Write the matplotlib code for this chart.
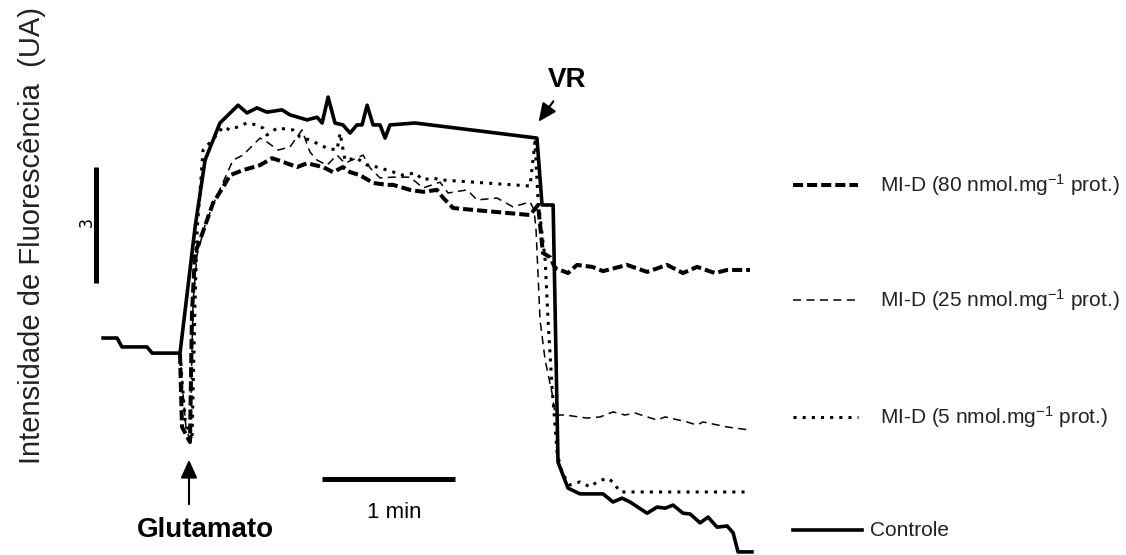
import matplotlib.pyplot as plt
from matplotlib.lines import Line2D

plt.rcParams['font.family'] = ['Liberation Sans', 'DejaVu Sans']
plt.rcParams['mathtext.fontset'] = 'custom'
plt.rcParams['mathtext.rm'] = 'Liberation Sans'
plt.rcParams['mathtext.it'] = 'Liberation Sans:italic'

# tempo em s (0 = adicao de glutamato), fluorescencia em UA
t_ctrl = [-34.7, -28.4, -26.2, -14.9, -12.6, 0.0, 6.8, 11.3, 18.0, 26.2, 30.2, 34.7,
          39.2, 46.0, 49.6, 57.3, 61.8, 64.1, 66.8, 69.9, 73.5, 76.7, 79.8, 82.1,
          84.4, 87.1, 90.2, 92.5, 94.7, 106.0, 161.0, 163.3, 168.3, 170.5, 175.0,
          180.4, 190.8, 195.3, 199.4, 203.0, 210.7, 215.2, 218.8, 222.4, 226.9,
          230.1, 234.6, 238.2, 242.2, 246.8, 249.5, 251.7, 258.0]
f_ctrl = [2.69, 2.69, 2.46, 2.46, 2.30, 2.30, 5.56, 7.29, 8.25, 8.71, 8.51, 8.64,
          8.53, 8.59, 8.46, 8.33, 8.40, 8.25, 8.92, 8.25, 8.20, 7.99, 8.20, 8.20,
          8.71, 8.20, 8.20, 7.86, 8.20, 8.25, 7.86, 6.13, 6.13, -0.52, -1.19,
          -1.34, -1.34, -1.55, -1.45, -1.55, -1.84, -1.68, -1.71, -1.63, -1.84,
          -1.86, -2.09, -1.94, -2.20, -2.17, -2.35, -2.84, -2.84]

t_80 = [0.0, 0.9, 4.5, 5.4, 6.8, 9.0, 12.2, 14.9, 19.4, 22.6, 28.4, 36.1, 41.5,
        44.2, 52.8, 57.3, 64.5, 69.0, 73.5, 76.7, 81.2, 87.1, 93.4, 96.1, 103.8,
        109.6, 115.9, 118.6, 123.2, 157.9, 161.5, 163.7, 166.9, 169.2, 175.0,
        179.1, 185.9, 190.8, 201.6, 210.7, 219.7, 226.9, 233.2, 241.3, 246.8, 257.1]
f_80 = [2.28, 0.39, 0.0, 3.34, 4.89, 5.22, 5.74, 6.18, 6.59, 6.90, 7.03, 7.16, 7.34,
        7.29, 7.11, 7.21, 7.11, 6.98, 7.11, 6.98, 6.90, 6.70, 6.65, 6.65, 6.52,
        6.47, 6.52, 6.32, 6.05, 5.87, 6.13, 4.89, 4.78, 4.50, 4.37,
        4.58, 4.53, 4.42, 4.58, 4.40, 4.58, 4.37, 4.53, 4.37, 4.45, 4.45]

t_25 = [0.0, 1.4, 2.7, 4.5, 5.9, 7.7, 11.3, 15.8, 20.3, 23.9, 28.4, 36.1, 39.2,
        44.2, 49.6, 55.0, 58.6, 61.8, 66.3, 70.8, 74.4, 82.6, 85.7, 90.2, 96.1,
        103.8, 109.6, 117.3, 120.9, 129.5, 134.0, 143.0, 150.2, 157.9, 159.7,
        160.6, 162.4, 164.7, 167.8, 169.2, 173.7, 183.6, 189.5, 195.3, 200.7,
        205.3, 215.2, 218.8, 228.7, 233.2, 235.9, 246.8, 257.1]
f_25 = [2.28, 1.22, 0.36, 0.05, 3.67, 4.84, 5.61, 6.26, 6.83, 7.29, 7.42, 7.86, 7.76,
        7.55, 7.63, 8.07, 7.50, 7.29, 7.16, 7.42, 7.21, 7.42, 7.09, 6.83, 6.85,
        6.85, 6.57, 6.72, 6.44, 6.52, 6.26, 6.31, 6.08, 6.21, 6.00,
        5.48, 3.15, 2.12, 1.27, 0.70, 0.70, 0.62, 0.65, 0.78, 0.70,
        0.75, 0.57, 0.65, 0.52, 0.44, 0.52, 0.39, 0.31]

t_5 = [0.0, 2.3, 5.4, 6.8, 7.7, 10.4, 15.8, 19.4, 22.6, 30.2, 34.7, 37.4, 39.2,
       43.8, 51.0, 54.1, 58.6, 66.3, 70.8, 72.2, 74.4, 79.8, 84.4, 88.9, 94.7,
       100.6, 106.0, 109.6, 114.1, 117.3, 157.9, 160.1, 161.5, 164.7, 166.0,
       167.8, 170.1, 172.3, 175.9, 180.4, 185.0, 188.1, 192.6, 195.3, 198.5, 257.1]
f_5 = [2.28, 0.57, 0.05, 3.67, 5.48, 7.55, 7.89, 8.15, 8.07, 8.25, 8.20, 8.12, 7.94,
       8.12, 8.07, 7.89, 7.81, 7.60, 7.55, 7.99, 7.29, 7.34, 7.16, 7.11, 7.01,
       6.90, 6.96, 6.78, 6.83, 6.78, 6.62, 7.76, 6.26, 4.71, 3.15,
       1.42, -0.28, -0.80, -1.11, -1.03, -1.16, -1.03, -0.93, -1.03, -1.29, -1.29]

labels = ['MI-D (80 nmol.mg$^{-1}$ prot.)', 'MI-D (25 nmol.mg$^{-1}$ prot.)',
          'MI-D (5 nmol.mg$^{-1}$ prot.)', 'Controle']

W, H = 1126, 555
fig = plt.figure(figsize=(W / 100, H / 100), dpi=100)
ax = fig.add_axes([0, 0, 1, 1])
# 1 min = 133 px, 3 UA = 116 px
ax.set_xlim(-81.2, 426.7)
ax.set_ylim(-2.92, 11.43)
ax.axis('off')

def fp(x, y):
    return x / W, 1 - y / H

styles = [dict(lw=2.9, dashes=(2.5, 1.0)),
          dict(lw=1.1, dashes=(5.3, 3.5)),
          dict(lw=2.2, dashes=(1.0, 2.0)),
          dict(lw=2.6)]

ax.plot(t_80, f_80, color='k', **styles[0])
ax.plot(t_25, f_25, color='k', **styles[1])
ax.plot(t_5, f_5, color='k', **styles[2])
ax.plot(t_ctrl, f_ctrl, color='k', **styles[3])

# scale bars
ax.plot([64.0, 64.0 + 60], [-0.96, -0.96], color='k', lw=3.6, solid_capstyle='butt')
ax.plot([-38.1, -38.1], [4.11, 4.11 + 3], color='k', lw=3.6, solid_capstyle='butt')
fig.text(*fp(394, 512), '1 min', fontsize=16, ha='center', va='center')
fig.text(*fp(87, 222), '3', fontsize=12, ha='center', va='center', rotation=90,
         family='DejaVu Sans Mono')

fig.text(*fp(32, 236), 'Intensidade de Fluorescência  (UA)', fontsize=21,
         ha='center', va='center', rotation=90, color='#222222')

# arrows
arrow = dict(arrowstyle='-|>,head_length=1.1,head_width=0.5', color='k', lw=1.5)
ax.annotate('', xy=fp(537, 124), xytext=fp(555, 99), xycoords='figure fraction',
            arrowprops=arrow)
ax.annotate('', xy=fp(189, 457), xytext=fp(189, 507), xycoords='figure fraction',
            arrowprops=arrow)
fig.text(*fp(567, 80), 'VR', fontsize=20, fontweight='bold', ha='center', va='center')
fig.text(*fp(205, 530), 'Glutamato', fontsize=20, fontweight='bold',
         ha='center', va='center')

# legend
ys = [185, 300, 417, 530]
for i, (lab, y) in enumerate(zip(labels, ys)):
    x1 = 862 if i == 3 else 858
    fig.add_artist(Line2D([793 / W, x1 / W], [1 - y / H, 1 - y / H],
                          transform=fig.transFigure, color='k', **styles[i]))
    fig.text((870 if i == 3 else 880) / W, 1 - y / H, lab, fontsize=15,
             ha='left', va='center', color='#222222')

fig.savefig('out.png', dpi=100)
